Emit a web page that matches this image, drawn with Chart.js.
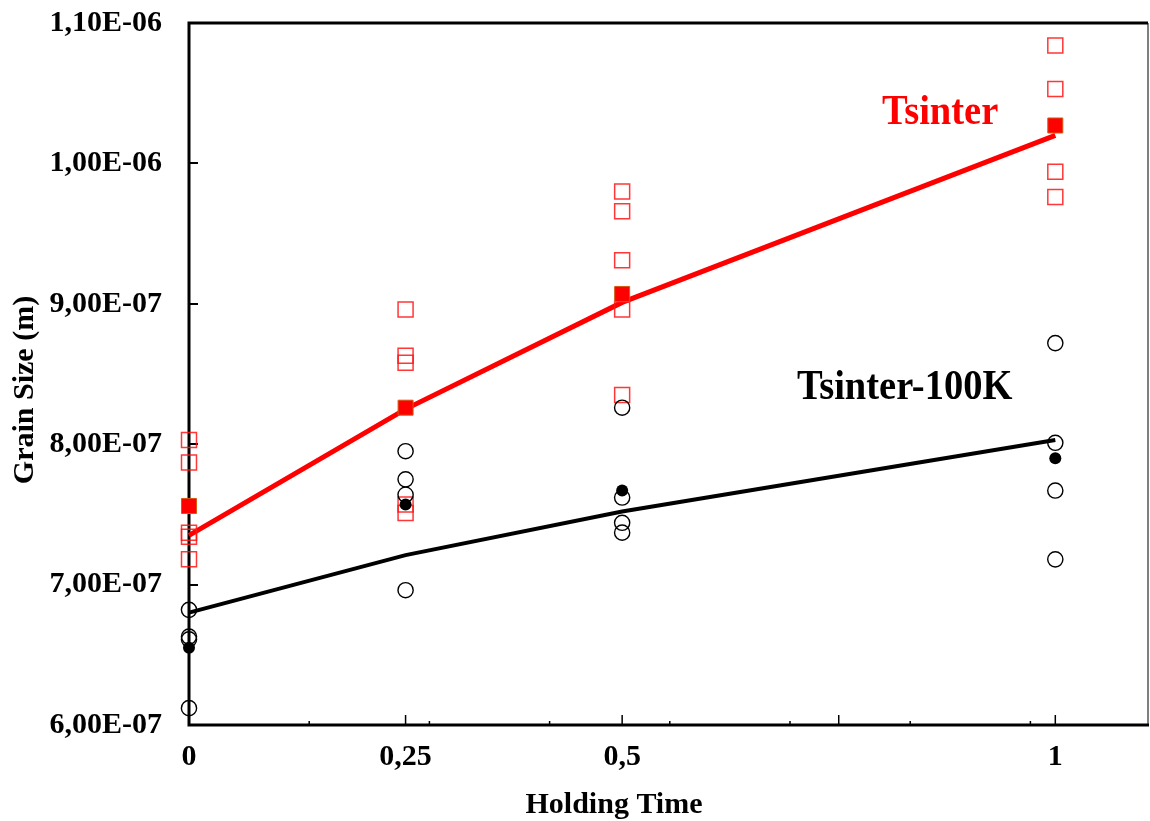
<!DOCTYPE html>
<html>
<head>
<meta charset="utf-8">
<script src="https://cdn.jsdelivr.net/npm/chart.js@4.4.1/dist/chart.umd.min.js"></script>
<style>
  body { margin: 0; background: #fff; }
  canvas { display: block; }
</style>
</head>
<body>
<canvas id="grainChart" width="1150" height="821"></canvas>
<script>
// holding times (x) and read-off grain sizes (m)
const holdingTimes = [0, 0.25, 0.5, 1];
const xTickValues = [0, 0.25, 0.5, 0.75, 1];
const xTickLabels = ['0', '0,25', '0,5', '', '1'];
const yTickValues = [6e-7, 7e-7, 8e-7, 9e-7, 1e-6, 1.1e-6];

// Tsinter: individual runs, mean, fitted line
const tsinterRuns = [
    [8.03e-7, 7.87e-7, 7.37e-7, 7.34e-7, 7.18e-7],
    [8.96e-7, 8.63e-7, 8.58e-7, 7.57e-7, 7.51e-7],
    [9.80e-7, 9.66e-7, 9.31e-7, 8.96e-7, 8.35e-7],
    [10.84e-7, 10.53e-7, 9.94e-7, 9.76e-7]
];
const tsinterMean = [7.56e-7, 8.26e-7, 9.07e-7, 10.27e-7];
const tsinterFit = [7.35e-7, 8.25e-7, 9.01e-7, 10.20e-7];

// Tsinter-100K
const lowerRuns = [
    [6.82e-7, 6.63e-7, 6.61e-7, 6.12e-7],
    [7.95e-7, 7.75e-7, 7.64e-7, 6.96e-7],
    [8.26e-7, 7.62e-7, 7.44e-7, 7.37e-7],
    [8.72e-7, 8.01e-7, 7.67e-7, 7.18e-7]
];
const lowerMean = [6.55e-7, 7.57e-7, 7.67e-7, 7.90e-7];
const lowerFit = [6.80e-7, 7.21e-7, 7.52e-7, 8.03e-7];

const serif = '"Liberation Serif", "Times New Roman", serif';

const pairs = (ys) => holdingTimes.map((t, i) => ({ x: t, y: ys[i] }));
const runPoints = (runs) => runs.flatMap((vals, i) => vals.map(v => ({ x: holdingTimes[i], y: v })));

function sciLabel(v) {
    const parts = Number(v).toExponential(2).split('e');
    const exp = parseInt(parts[1], 10);
    return parts[0].replace('.', ',') + 'E' + (exp < 0 ? '-' : '+') + String(Math.abs(exp)).padStart(2, '0');
}

// frame, inward tick marks and free text
const framePlugin = {
    id: 'frame',
    beforeDatasetsDraw(chart) {
        const { ctx, chartArea: a, scales: { x, y } } = chart;
        ctx.save();
        ctx.strokeStyle = '#000';
        ctx.lineCap = 'butt';

        // y major ticks (inward)
        ctx.lineWidth = 2;
        yTickValues.slice(1, -1).forEach(v => {
            const py = Math.round(y.getPixelForValue(v));
            ctx.beginPath(); ctx.moveTo(a.left, py); ctx.lineTo(a.left + 9, py); ctx.stroke();
        });
        // x major ticks
        ctx.lineWidth = 1.5;
        xTickValues.slice(1).forEach(v => {
            const px = x.getPixelForValue(v);
            ctx.beginPath(); ctx.moveTo(px, a.bottom); ctx.lineTo(px, a.bottom - 10); ctx.stroke();
        });
        // x minor ticks
        const minorStep = 0.13875;
        for (let k = 1; k <= 7; k++) {
            const px = x.getPixelForValue(k * minorStep);
            ctx.beginPath(); ctx.moveTo(px, a.bottom); ctx.lineTo(px, a.bottom - 4); ctx.stroke();
        }

        // right border (thin grey)
        ctx.strokeStyle = '#555';
        ctx.lineWidth = 1.5;
        ctx.beginPath(); ctx.moveTo(a.right, a.top); ctx.lineTo(a.right, a.bottom); ctx.stroke();

        // left, bottom, top
        ctx.strokeStyle = '#000';
        ctx.lineWidth = 3;
        ctx.beginPath();
        ctx.moveTo(a.right, a.top); ctx.lineTo(a.left, a.top);
        ctx.lineTo(a.left, a.bottom); ctx.lineTo(a.right + 1, a.bottom);
        ctx.stroke();
        ctx.restore();
    },
    afterDraw(chart) {
        const { ctx } = chart;
        ctx.save();
        ctx.textAlign = 'left';
        ctx.textBaseline = 'alphabetic';

        ctx.font = 'bold 38.5px ' + serif;
        ctx.fillStyle = '#ff0000';
        ctx.save(); ctx.translate(882, 124); ctx.scale(1, 1.08); ctx.fillText('Tsinter', 0, 0); ctx.restore();

        ctx.fillStyle = '#000';
        ctx.save(); ctx.translate(797, 399); ctx.scale(1, 1.08); ctx.fillText('Tsinter-100K', 0, 0); ctx.restore();

        ctx.font = 'bold 30px ' + serif;
        ctx.textAlign = 'center';
        ctx.fillText('Holding Time', 614, 813);

        ctx.save();
        ctx.translate(33, 390);
        ctx.rotate(-Math.PI / 2);
        ctx.fillText('Grain Size (m)', 0, 0);
        ctx.restore();
        ctx.restore();
    }
};

new Chart(document.getElementById('grainChart'), {
    type: 'scatter',
    data: {
        datasets: [
            {
                label: 'Tsinter fit',
                type: 'line',
                data: pairs(tsinterFit),
                borderColor: '#ff0000',
                borderWidth: 5,
                pointRadius: 0,
                tension: 0,
                fill: false,
                clip: false,
                order: 5
            },
            {
                label: 'Tsinter-100K fit',
                type: 'line',
                data: pairs(lowerFit),
                borderColor: '#000',
                borderWidth: 4,
                pointRadius: 0,
                tension: 0,
                fill: false,
                clip: false,
                order: 6
            },
            {
                label: 'Tsinter runs',
                data: runPoints(tsinterRuns),
                pointStyle: 'rect',
                pointRadius: 10.6,
                backgroundColor: 'rgba(0,0,0,0)',
                borderColor: 'rgba(255,20,20,0.85)',
                borderWidth: 1.5,
                clip: false,
                order: 4
            },
            {
                label: 'Tsinter-100K runs',
                data: runPoints(lowerRuns),
                pointStyle: 'circle',
                pointRadius: 7.6,
                backgroundColor: 'rgba(0,0,0,0)',
                borderColor: '#000',
                borderWidth: 1.4,
                clip: false,
                order: 3
            },
            {
                label: 'Tsinter mean',
                data: pairs(tsinterMean),
                pointStyle: 'rect',
                pointRadius: 10.6,
                backgroundColor: '#ff0000',
                borderColor: '#d45a10',
                borderWidth: 1,
                clip: false,
                order: 2
            },
            {
                label: 'Tsinter-100K mean',
                data: pairs(lowerMean),
                pointStyle: 'circle',
                pointRadius: 6,
                backgroundColor: '#000',
                borderColor: '#000',
                borderWidth: 0,
                clip: false,
                order: 1
            }
        ]
    },
    options: {
        responsive: false,
        animation: false,
        devicePixelRatio: 1,
        layout: { autoPadding: false, padding: { top: 23, right: 2, left: 0, bottom: 0 } },
        plugins: {
            legend: { display: false },
            tooltip: { enabled: false }
        },
        scales: {
            x: {
                type: 'linear',
                min: 0,
                max: 1.107,
                afterBuildTicks: (scale) => { scale.ticks = xTickValues.map(v => ({ value: v })); },
                afterFit: (scale) => {
                    scale.height = 96;
                    scale.paddingLeft = 0;
                    scale.paddingRight = 0;
                },
                ticks: {
                    callback: (v) => xTickLabels[xTickValues.indexOf(v)] ?? '',
                    color: '#000',
                    font: { family: serif, size: 30, weight: 'bold' },
                    padding: 14,
                    maxRotation: 0,
                    autoSkip: false
                },
                grid: { display: false, drawTicks: false },
                border: { display: false }
            },
            y: {
                type: 'linear',
                min: 6e-7,
                max: 1.1e-6,
                afterBuildTicks: (scale) => { scale.ticks = yTickValues.map(v => ({ value: v })); },
                afterFit: (scale) => {
                    scale.width = 189;
                    scale.paddingTop = 0;
                    scale.paddingBottom = 0;
                },
                ticks: {
                    callback: (v) => sciLabel(v),
                    color: '#000',
                    font: { family: serif, size: 30, weight: 'bold' },
                    padding: 27,
                    autoSkip: false
                },
                grid: { display: false, drawTicks: false },
                border: { display: false }
            }
        }
    },
    plugins: [framePlugin]
});
</script>
</body>
</html>
